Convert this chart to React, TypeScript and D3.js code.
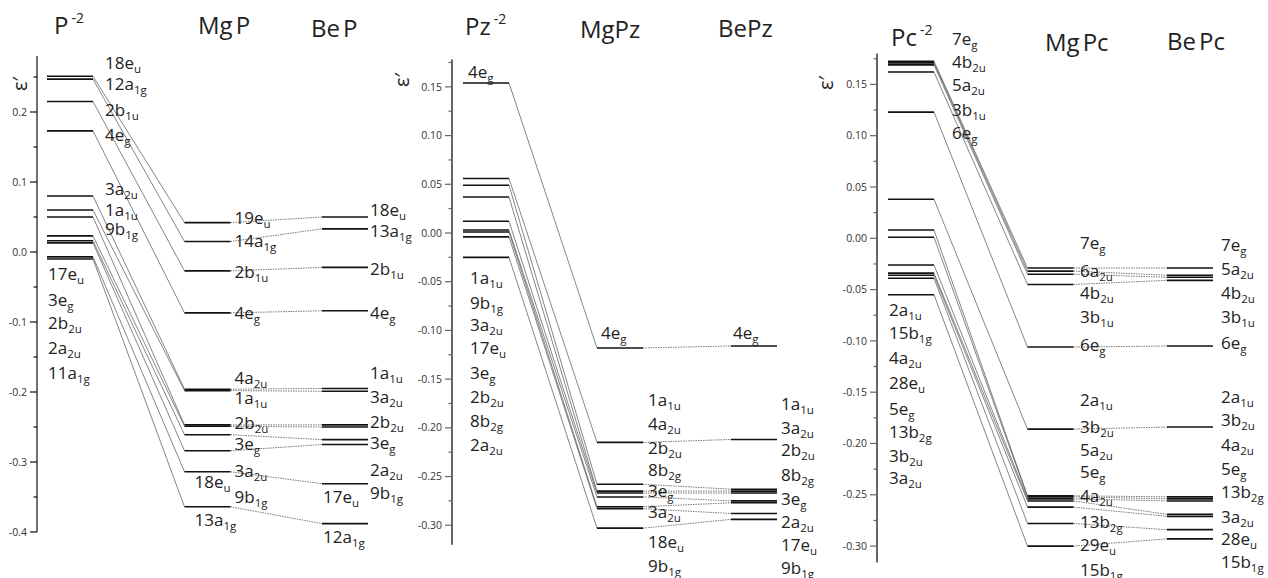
import * as d3 from 'd3';

const FONT = '"Open Sans", "DejaVu Sans", sans-serif';

// ---- porphyrin panel: P(-2), MgP, BeP
const pLevels = [0.251, 0.247, 0.215, 0.173, 0.080, 0.060, 0.050, 0.023, 0.016, 0.013, -0.007, -0.010];
const mgpLevels = [0.042, 0.015, -0.027, -0.087, -0.196, -0.198, -0.247, -0.249, -0.261, -0.284, -0.314, -0.364];
const bepLevels = [0.050, 0.033, -0.022, -0.084, -0.195, -0.199, -0.247, -0.250, -0.268, -0.275, -0.331, -0.388];

const pLabUp = [['18e_u', 0.270], ['12a_1g', 0.240], ['2b_1u', 0.203], ['4e_g', 0.167], ['3a_2u', 0.090], ['1a_1u', 0.060], ['9b_1g', 0.033]];
const pLabDown = [['17e_u', -0.031], ['3e_g', -0.069], ['2b_2u', -0.101], ['2a_2u', -0.137], ['11a_1g', -0.173]];
const mgpLabR = [['19e_u', 0.049], ['14a_1g', 0.016], ['2b_1u', -0.029], ['4e_g', -0.087], ['4a_2u', -0.180], ['1a_1u', -0.209], ['2b_2u', -0.244], ['3e_g', -0.274], ['3a_2u', -0.313], ['9b_1g', -0.350]];
const mgpLabBelow = [['18e_u', -0.329], ['13a_1g', -0.383]];
const bepLabR = [['18e_u', 0.060], ['13a_1g', 0.030], ['2b_1u', -0.024], ['4e_g', -0.087], ['1a_1u', -0.173], ['3a_2u', -0.207], ['2b_2u', -0.243], ['3e_g', -0.273], ['2a_2u', -0.311], ['9b_1g', -0.344]];
const bepLabBelow = [['17e_u', -0.350], ['12a_1g', -0.407]];

// ---- porphyrazine panel: Pz(-2), MgPz, BePz
const pzLevels = [0.154, 0.056, 0.049, 0.037, 0.012, 0.003, 0.001, -0.004, -0.025];
const mgpzLevels = [-0.118, -0.215, -0.258, -0.265, -0.267, -0.271, -0.281, -0.283, -0.303];
const bepzLevels = [-0.116, -0.212, -0.263, -0.265, -0.267, -0.275, -0.277, -0.288, -0.294];

const pzLabTop = [['4e_g', 0.165]];
const pzLabDown = [['1a_1u', -0.046], ['9b_1g', -0.072], ['3a_2u', -0.094], ['17e_u', -0.118], ['3e_g', -0.144], ['2b_2u', -0.168], ['8b_2g', -0.193], ['2a_2u', -0.218]];
const mgpzLabTop = [['4e_g', -0.103]];
const mgpzLabR = [['1a_1u', -0.171], ['4a_2u', -0.196], ['2b_2u', -0.221], ['8b_2g', -0.243], ['3e_g', -0.265], ['3a_2u', -0.286], ['18e_u', -0.317], ['9b_1g', -0.342]];
const bepzLabTop = [['4e_g', -0.103]];
const bepzLabR = [['1a_1u', -0.176], ['3a_2u', -0.200], ['2b_2u', -0.223], ['8b_2g', -0.248], ['3e_g', -0.273], ['2a_2u', -0.297], ['17e_u', -0.320], ['9b_1g', -0.344]];

// ---- phthalocyanine panel: Pc(-2), MgPc, BePc
const pcLevels = [0.1725, 0.171, 0.169, 0.162, 0.123, 0.038, 0.008, 0.001, -0.026, -0.034, -0.036, -0.039, -0.055];
const mgpcLevels = [-0.029, -0.032, -0.035, -0.045, -0.106, -0.186, -0.251, -0.252, -0.254, -0.256, -0.262, -0.278, -0.300];
const bepcLevels = [-0.029, -0.036, -0.038, -0.041, -0.105, -0.184, -0.252, -0.254, -0.256, -0.269, -0.271, -0.284, -0.293];

const pcLabUp = [['7e_g', 0.194], ['4b_2u', 0.172], ['5a_2u', 0.149], ['3b_1u', 0.125], ['6e_g', 0.103]];
const pcLabDown = [['2a_1u', -0.070], ['15b_1g', -0.092], ['4a_2u', -0.117], ['28e_u', -0.141], ['5e_g', -0.166], ['13b_2g', -0.189], ['3b_2u', -0.212], ['3a_2u', -0.234]];
const mgpcLabR = [['7e_g', -0.005], ['6a_2u', -0.032], ['4b_2u', -0.053], ['3b_1u', -0.077], ['6e_g', -0.104], ['2a_1u', -0.158], ['3b_2u', -0.184], ['5a_2u', -0.206], ['5e_g', -0.228], ['4a_2u', -0.251], ['13b_2g', -0.277], ['29e_u', -0.299], ['15b_1g', -0.323]];
const bepcLabR = [['7e_g', -0.0065], ['5a_2u', -0.030], ['4b_2u', -0.053], ['3b_1u', -0.077], ['6e_g', -0.102], ['2a_1u', -0.155], ['3b_2u', -0.177], ['4a_2u', -0.202], ['5e_g', -0.225], ['13b_2g', -0.247], ['3a_2u', -0.272], ['28e_u', -0.293], ['15b_1g', -0.316]];

const LINE_W = 46;

const steps = (from: number, to: number, step: number) =>
  d3.range(Math.round((to - from) / step) + 1).map(i => +(from + i * step).toFixed(4));

const panels = [
  {
    cols: [pLevels, mgpLevels, bepLevels],
    y: d3.scaleLinear().domain([-0.4, 0.28]).range([532, 56]),
    x: d3.scaleLinear().domain([0, 2]).range([47, 322]),
    axisX: 37, axisColor: '#111', axisW: 1.2,
    major: steps(-0.4, 0.2, 0.1), minor: steps(-0.35, 0.25, 0.1), fmt: d3.format('.1f'),
    eps: [20, 84],
    titles: [
      { main: 'P', sup: '-2', x: 54, y: 34 },
      { main: 'Mg', tail: 'P', x: 198, y: 34 },
      { main: 'Be', tail: 'P', x: 311, y: 37 },
    ],
    labels: [
      { col: 0, dx: 58, items: pLabUp }, { col: 0, dx: 1, items: pLabDown },
      { col: 1, dx: 50, items: mgpLabR }, { col: 1, dx: 10, items: mgpLabBelow },
      { col: 2, dx: 48, items: bepLabR }, { col: 2, dx: 1, items: bepLabBelow },
    ],
  },
  {
    cols: [pzLevels, mgpzLevels, bepzLevels],
    y: d3.scaleLinear().domain([-0.32, 0.178]).range([544.7, 59.6]),
    x: d3.scaleLinear().domain([0, 2]).range([463, 731]),
    axisX: 452, axisColor: '#666', axisW: 2,
    major: steps(-0.3, 0.15, 0.05), minor: steps(-0.275, 0.175, 0.05), fmt: d3.format('.2f'),
    eps: [402, 80],
    titles: [
      { main: 'Pz', sup: '-2', x: 465, y: 35 },
      { main: 'MgPz', x: 580, y: 38 },
      { main: 'BePz', x: 718, y: 37 },
    ],
    labels: [
      { col: 0, dx: 5, items: pzLabTop }, { col: 0, dx: 7, items: pzLabDown },
      { col: 1, dx: 4, items: mgpzLabTop }, { col: 1, dx: 51, items: mgpzLabR },
      { col: 2, dx: 2, items: bepzLabTop }, { col: 2, dx: 50, items: bepzLabR },
    ],
  },
  {
    cols: [pcLevels, mgpcLevels, bepcLevels],
    y: d3.scaleLinear().domain([-0.316, 0.18]).range([562.5, 53.6]),
    x: d3.scaleLinear().domain([0, 2]).range([888, 1167]),
    axisX: 877, axisColor: '#666', axisW: 2,
    major: steps(-0.3, 0.15, 0.05), minor: steps(-0.275, 0.175, 0.05), fmt: d3.format('.2f'),
    eps: [826, 83],
    titles: [
      { main: 'Pc', sup: '-2', x: 891, y: 46 },
      { main: 'Mg', tail: 'Pc', x: 1045, y: 51 },
      { main: 'Be', tail: 'Pc', x: 1167, y: 50 },
    ],
    labels: [
      { col: 0, dx: 64, items: pcLabUp }, { col: 0, dx: 1, items: pcLabDown },
      { col: 1, dx: 52.5, items: mgpcLabR },
      { col: 2, dx: 54, items: bepcLabR },
    ],
  },
];

function Orbital({ x, y, text }: { x: number; y: number; text: string }) {
  const [main, sub] = text.split('_');
  return (
    <text x={x} y={y} dy="0.35em" fontSize={17} fill="#222">
      {main}
      {sub && <tspan fontSize={11.5} dy={4}>{sub}</tspan>}
    </text>
  );
}

function Panel({ p }: { p: any }) {
  const { x, y, cols } = p;
  const [y0, y1] = y.range();
  return (
    <g>
      {/* axis */}
      <line x1={p.axisX} x2={p.axisX} y1={y0} y2={y1} stroke={p.axisColor} strokeWidth={p.axisW} />
      {p.major.map((v: number) => (
        <g key={'M' + v}>
          <line x1={p.axisX - 7} x2={p.axisX} y1={y(v)} y2={y(v)} stroke={p.axisColor} strokeWidth={1.2} />
          <text x={p.axisX - 10} y={y(v)} dy="0.35em" textAnchor="end" fontSize={10.5} fill="#333">
            {p.fmt(v).replace('\u2212', '-')}
          </text>
        </g>
      ))}
      {p.minor.map((v: number) => (
        <line key={'m' + v} x1={p.axisX - 3.5} x2={p.axisX} y1={y(v)} y2={y(v)} stroke={p.axisColor} strokeWidth={1.2} />
      ))}
      <text transform={`translate(${p.eps[0]},${p.eps[1]}) rotate(-90)`} textAnchor="middle" dy="0.35em" fontSize={20} fill="#222">
        {'\u03b5\u2032'}
      </text>

      {/* connectors */}
      {[0, 1].map(c =>
        cols[c].map((v: number, i: number) => (
          <line
            key={`c${c}-${i}`}
            x1={x(c) + LINE_W} y1={y(v)}
            x2={x(c + 1)} y2={y(cols[c + 1][i])}
            stroke={c === 0 ? '#333' : '#555'}
            strokeWidth={c === 0 ? 0.6 : 0.8}
            strokeDasharray={c === 0 ? undefined : '1.5 1'}
          />
        ))
      )}

      {/* levels */}
      {cols.map((levels: number[], c: number) =>
        levels.map((v, i) => (
          <line key={`l${c}-${i}`} x1={x(c)} x2={x(c) + LINE_W} y1={y(v)} y2={y(v)} stroke="#111" strokeWidth={1.6} />
        ))
      )}

      {/* orbital labels */}
      {p.labels.map((g: any, gi: number) =>
        g.items.map(([t, v]: [string, number], i: number) => (
          <Orbital key={`t${gi}-${i}`} x={x(g.col) + g.dx} y={y(v)} text={t} />
        ))
      )}

      {/* column titles */}
      {p.titles.map((t: any, i: number) => (
        <text key={'h' + i} x={t.x} y={t.y} fontSize={24} fill="#222">
          {t.main}
          {t.tail && <tspan dx={3}>{t.tail}</tspan>}
          {t.sup && <tspan fontSize={14} dx={3} dy={-11}>{t.sup}</tspan>}
        </text>
      ))}
    </g>
  );
}

export default function App() {
  return (
    <svg
      width={1268}
      height={578}
      style={{ position: 'absolute', left: 0, top: 0, background: '#fff', fontFamily: FONT }}
    >
      {panels.map((p, i) => <Panel key={i} p={p} />)}
    </svg>
  );
}
